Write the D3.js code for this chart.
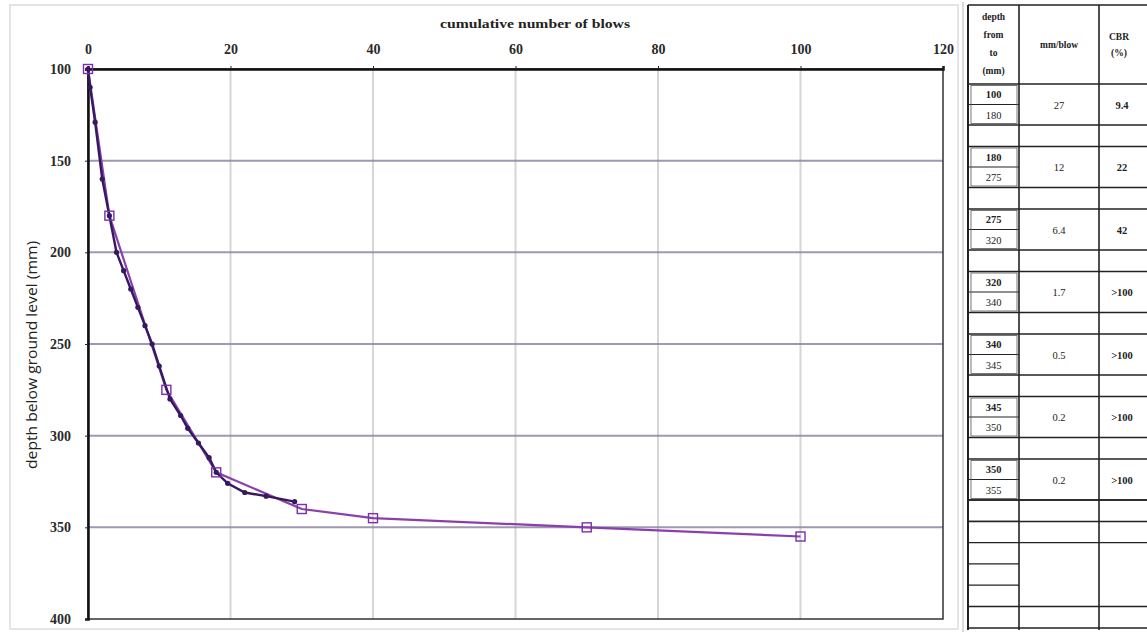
<!DOCTYPE html>
<html>
<head>
<meta charset="utf-8">
<script src="https://cdn.jsdelivr.net/npm/d3@7"></script>
<style>
  html, body { margin: 0; padding: 0; background: #fff; }
  svg { display: block; }
</style>
</head>
<body>
<svg id="chart" width="1147" height="633"></svg>
<script>
// DCP test: cumulative blows against penetration depth
const xTicks = [0, 20, 40, 60, 80, 100, 120];
const yTicks = [100, 150, 200, 250, 300, 350, 400];

// layer boundaries (blows, depth mm)
const layerBlows = [0, 3, 11, 18, 30, 40, 70, 100];
const layerDepth = [100, 180, 275, 320, 340, 345, 350, 355];

// individual readings (blows, depth mm)
const readBlows = [0, 0.3, 1, 2, 3, 4, 5, 6, 7, 8, 9, 10, 11.5, 13, 14, 15.5, 17, 18, 19.6, 22, 25, 29];
const readDepth = [100, 110, 129, 160, 180, 200, 210, 220, 230, 240, 250, 262, 280, 289, 296, 304, 312, 320, 326, 331, 333, 336];

// summary table
const depthFrom = ["100", "180", "275", "320", "340", "345", "350"];
const depthTo = ["180", "275", "320", "340", "345", "350", "355"];
const mmPerBlow = ["27", "12", "6.4", "1.7", "0.5", "0.2", "0.2"];
const cbr = ["9.4", "22", "42", ">100", ">100", ">100", ">100"];

const svg = d3.select("#chart");
const serif = "'Liberation Serif', 'DejaVu Serif', serif";

const x = d3.scaleLinear().domain([0, 120]).range([88, 943]);
const y = d3.scaleLinear().domain([100, 400]).range([69, 619]);

// outer chart frame
svg.append("rect").attr("x", 10).attr("y", 5).attr("width", 948).attr("height", 624)
  .attr("fill", "none").attr("stroke", "#dcdcdc").attr("stroke-width", 1.5);

// gridlines
svg.append("g").selectAll("line").data(xTicks.slice(1, -1)).join("line")
  .attr("x1", d => x(d)).attr("x2", d => x(d))
  .attr("y1", y(100)).attr("y2", y(400))
  .attr("stroke", "#d6d6d6").attr("stroke-width", 2);
svg.append("g").selectAll("line").data(yTicks.slice(1, -1)).join("line")
  .attr("x1", x(0)).attr("x2", x(120))
  .attr("y1", d => y(d)).attr("y2", d => y(d))
  .attr("stroke", "#8f86a6").attr("stroke-width", 2).attr("opacity", 0.85);

// plot frame
svg.append("rect").attr("x", x(0)).attr("y", y(100))
  .attr("width", x(120) - x(0)).attr("height", y(400) - y(100))
  .attr("fill", "none").attr("stroke", "#333").attr("stroke-width", 1.5);

// axes
const xAxis = d3.axisTop(x).tickValues(xTicks).tickSize(3).tickPadding(12);
const yAxis = d3.axisLeft(y).tickValues(yTicks).tickSize(3).tickPadding(14);

const gx = svg.append("g").attr("transform", `translate(0,${y(100)})`).call(xAxis);
const gy = svg.append("g").attr("transform", `translate(${x(0)},0)`).call(yAxis);
[gx, gy].forEach(g => {
  g.select(".domain").attr("stroke", "#111").attr("stroke-width", 2.5);
  g.selectAll(".tick line").attr("stroke", "#222");
  g.selectAll(".tick text").attr("font-family", serif).attr("font-size", 14)
    .attr("font-weight", "bold").attr("fill", "#2a2a2a");
});

// axis titles
svg.append("text").attr("x", 535).attr("y", 28).attr("text-anchor", "middle")
  .attr("font-family", serif).attr("font-size", 12).attr("font-weight", "bold")
  .attr("textLength", 190).attr("lengthAdjust", "spacingAndGlyphs")
  .attr("fill", "#222").text("cumulative number of blows");
svg.append("text").attr("transform", "translate(37,355) rotate(-90)")
  .attr("text-anchor", "middle").attr("font-family", "'Open Sans', sans-serif")
  .attr("font-size", 14).attr("textLength", 228).attr("lengthAdjust", "spacingAndGlyphs")
  .attr("fill", "#222").text("depth below ground level (mm)");

// series
const readPts = readBlows.map((b, i) => [b, readDepth[i]]);
const layerPts = layerBlows.map((b, i) => [b, layerDepth[i]]);
const line = d3.line().x(d => x(d[0])).y(d => y(d[1]));

svg.append("path").datum(layerPts).attr("d", line)
  .attr("fill", "none").attr("stroke", "#8a3fae").attr("stroke-width", 2.2);
svg.append("path").datum(readPts).attr("d", line)
  .attr("fill", "none").attr("stroke", "#35195f").attr("stroke-width", 2.4);
svg.append("g").selectAll("circle").data(readPts).join("circle")
  .attr("cx", d => x(d[0])).attr("cy", d => y(d[1])).attr("r", 2.6)
  .attr("fill", "#35195f");
svg.append("g").selectAll("rect").data(layerPts).join("rect")
  .attr("x", d => x(d[0]) - 4.5).attr("y", d => y(d[1]) - 4.5)
  .attr("width", 9).attr("height", 9)
  .attr("fill", "none").attr("stroke", "#7a30a8").attr("stroke-width", 1.4);

// summary table
const tX = [968, 1019, 1099, 1149];
const headTop = 5, headBot = 84, period = 62.5, sub = 20.5;
const tbl = svg.append("g");
const tline = (x1, y1, x2, y2, w = 1.6) => tbl.append("line")
  .attr("x1", x1).attr("y1", y1).attr("x2", x2).attr("y2", y2)
  .attr("stroke", "#222").attr("stroke-width", w);

svg.append("line").attr("x1", 963).attr("x2", 963).attr("y1", 2).attr("y2", 632)
  .attr("stroke", "#cfcfcf").attr("stroke-width", 1.5);
tline(tX[0], headTop, tX[0], 630, 2);
tline(tX[1], headTop, tX[1], 630);
tline(tX[2], headTop, tX[2], 630);
tline(tX[0], headTop, tX[3], headTop);
tline(tX[0], headBot, tX[3], headBot);

// header text
const hdr = tbl.append("g").attr("font-family", serif).attr("font-weight", "bold")
  .attr("font-size", 9.5).attr("fill", "#222").attr("text-anchor", "middle");
["depth", "from", "to", "(mm)"].forEach((t, i) =>
  hdr.append("text").attr("x", (tX[0] + tX[1]) / 2).attr("y", 20 + i * 18).text(t));
hdr.append("text").attr("x", (tX[1] + tX[2]) / 2).attr("y", 48).text("mm/blow");
hdr.append("text").attr("x", (tX[2] + tX[3]) / 2 - 5).attr("y", 40).text("CBR");
hdr.append("text").attr("x", (tX[2] + tX[3]) / 2 - 5).attr("y", 56).text("(%)");

const body = tbl.append("g").attr("font-family", serif).attr("font-size", 10.5)
  .attr("fill", "#222").attr("text-anchor", "middle");
depthFrom.forEach((d, i) => {
  const top = headBot + i * period;
  const mid = top + sub, bot = top + 2 * sub, next = top + period;
  tline(tX[0], mid, tX[1], mid, 1.2);
  tline(tX[0], bot, tX[3], bot);
  tline(tX[0], next, tX[3], next);
  // inner sub-cell boxes
  tbl.append("rect").attr("x", tX[0] + 3).attr("y", top + 1.5)
    .attr("width", tX[1] - tX[0] - 5).attr("height", 2 * sub - 3)
    .attr("fill", "none").attr("stroke", "#555").attr("stroke-width", 0.8);
  body.append("text").attr("x", (tX[0] + tX[1]) / 2).attr("y", top + 14)
    .attr("font-weight", "bold").text(d);
  body.append("text").attr("x", (tX[0] + tX[1]) / 2).attr("y", mid + 14).text(depthTo[i]);
  body.append("text").attr("x", (tX[1] + tX[2]) / 2).attr("y", top + sub + 4).text(mmPerBlow[i]);
  body.append("text").attr("x", (tX[2] + tX[3]) / 2 - 2).attr("y", top + sub + 4)
    .attr("font-weight", "bold").text(cbr[i]);
});

// empty rows below the layers
const emptyTop = headBot + depthFrom.length * period - (period - 2 * sub);
[0, 1, 2, 3, 4, 5].forEach(k => {
  const yy = emptyTop + k * 21.3;
  const full = (k === 0 || k === 2 || k === 5);
  tline(tX[0], yy, full ? tX[3] : tX[1], yy, k === 0 ? 1.6 : 1.3);
});
tline(tX[0], 628, tX[3], 628);
</script>
</body>
</html>
